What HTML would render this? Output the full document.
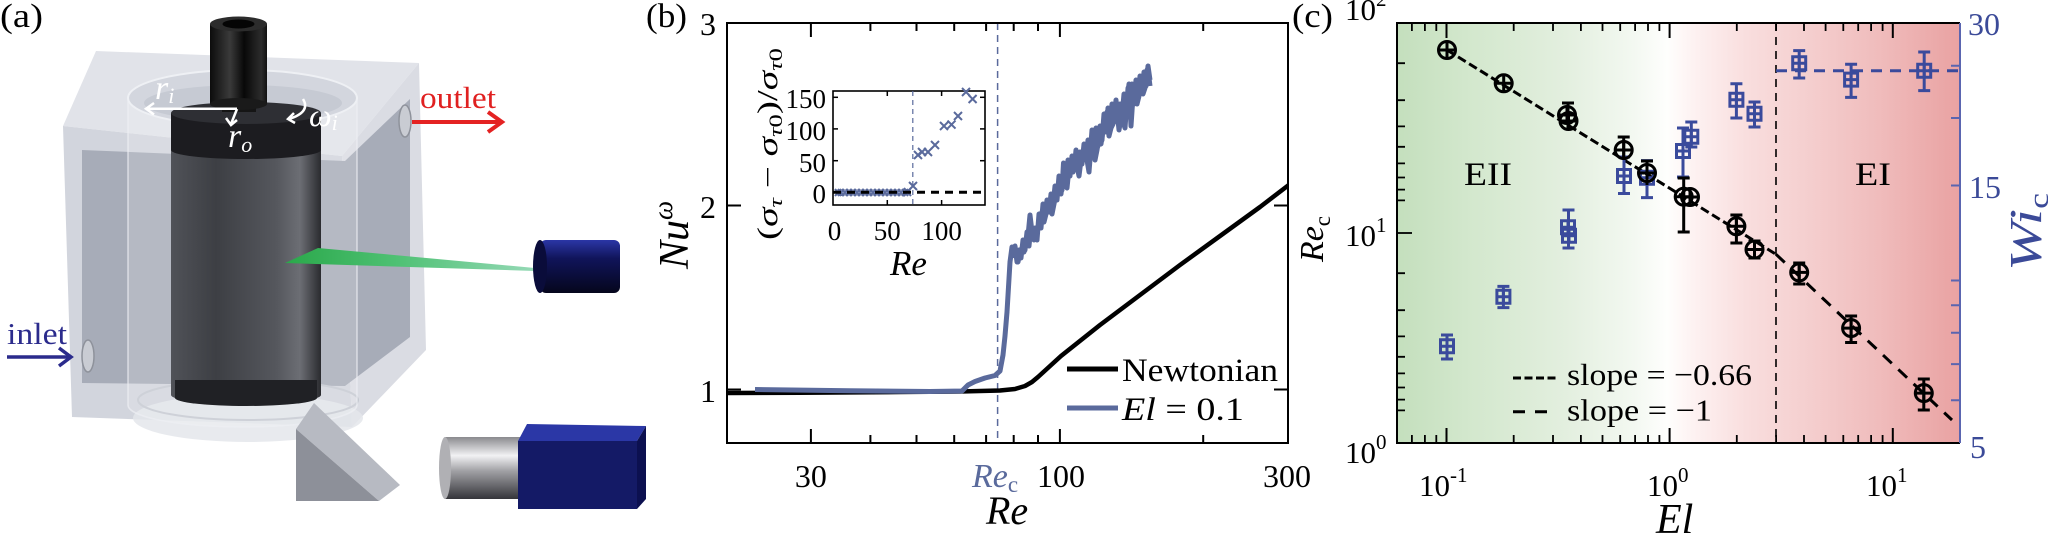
<!DOCTYPE html>
<html><head><meta charset="utf-8"><style>html,body{margin:0;padding:0;background:#fff}svg{display:block}svg text{font-family:"Liberation Serif","Times New Roman",serif}</style></head>
<body>
<svg width="2048" height="536" viewBox="0 0 2048 536" xmlns="http://www.w3.org/2000/svg" font-family="'Liberation Serif', serif">
<defs>
<linearGradient id="gInner" x1="171" y1="0" x2="321" y2="0" gradientUnits="userSpaceOnUse">
<stop offset="0" stop-color="#505258"/><stop offset="0.3" stop-color="#3d3f44"/><stop offset="0.7" stop-color="#55575d"/><stop offset="0.86" stop-color="#6c6e74"/><stop offset="1" stop-color="#2a2b2f"/></linearGradient>
<linearGradient id="gShaft" x1="210" y1="0" x2="267" y2="0" gradientUnits="userSpaceOnUse">
<stop offset="0" stop-color="#0c0c0c"/><stop offset="0.35" stop-color="#3a3a3a"/><stop offset="0.6" stop-color="#080808"/><stop offset="0.9" stop-color="#2c2c2c"/><stop offset="1" stop-color="#111"/></linearGradient>
<linearGradient id="gGreen" x1="285" y1="0" x2="535" y2="0" gradientUnits="userSpaceOnUse">
<stop offset="0" stop-color="#2aa84a"/><stop offset="0.45" stop-color="#4fc174"/><stop offset="1" stop-color="#95d9b6"/></linearGradient>
<linearGradient id="gLaser" x1="0" y1="240" x2="0" y2="293" gradientUnits="userSpaceOnUse">
<stop offset="0" stop-color="#2b36a6"/><stop offset="0.35" stop-color="#10145a"/><stop offset="1" stop-color="#05061c"/></linearGradient>
<linearGradient id="gLens" x1="0" y1="437" x2="0" y2="499" gradientUnits="userSpaceOnUse">
<stop offset="0" stop-color="#8a8a8e"/><stop offset="0.3" stop-color="#f2f2f4"/><stop offset="0.55" stop-color="#a0a0a4"/><stop offset="1" stop-color="#35353a"/></linearGradient>
<linearGradient id="gBg" x1="1397" y1="0" x2="1960" y2="0" gradientUnits="userSpaceOnUse">
<stop offset="0" stop-color="#c4dfbd"/><stop offset="0.12" stop-color="#d2e7cc"/><stop offset="0.3" stop-color="#e3efdf"/><stop offset="0.42" stop-color="#f3f8f1"/><stop offset="0.48" stop-color="#fefefd"/><stop offset="0.53" stop-color="#fdf1f1"/><stop offset="0.62" stop-color="#f9dede"/><stop offset="0.72" stop-color="#f5d0d0"/><stop offset="0.85" stop-color="#f0bdbd"/><stop offset="1" stop-color="#e9a2a2"/></linearGradient>
<clipPath id="cb"><rect x="727" y="23" width="561" height="420"/></clipPath>
<clipPath id="cc"><rect x="1397" y="23" width="563" height="420"/></clipPath>
</defs>

<!-- ================= PANEL A ================= -->
<text x="0" y="27" font-size="34" textLength="43" lengthAdjust="spacingAndGlyphs">(a)</text>
<polygon points="63,126 96,51 419,63 342,156" fill="#e1e3e9"/>
<polygon points="63,126 342,156 352,427 72,417" fill="#d2d5dd"/>
<polygon points="342,156 419,63 426,350 352,427" fill="#dadce3"/>
<polygon points="82,150 345,161 410,99 410,337 345,386 82,383" fill="#a7acb8"/>
<ellipse cx="248" cy="418" rx="115" ry="24" fill="#e4e6eb" fill-opacity="0.85"/>
<ellipse cx="248" cy="400" rx="110" ry="20" fill="none" stroke="#c5c9d1" stroke-width="2"/>
<path d="M128,98 L128,405 A114.5,22 0 0 0 357,405 L357,98 Z" fill="#ffffff" fill-opacity="0.16" stroke="#eef0f4" stroke-opacity="0.7" stroke-width="1.5"/>
<ellipse cx="242.5" cy="98" rx="114.5" ry="28" fill="#d3d6de" stroke="#eef0f4" stroke-width="2"/>
<ellipse cx="243" cy="103" rx="99" ry="18" fill="#c6cad3"/>
<path d="M171,118 L171,395 A75,9 0 0 0 321,395 L321,118 Z" fill="url(#gInner)"/>
<path d="M171,113 L171,150 A75,9 0 0 0 321,150 L321,113 Z" fill="#1c1c20"/>
<path d="M175,380 L175,398 A71,8 0 0 0 317,398 L317,380 Z" fill="#202125"/>
<ellipse cx="246" cy="113" rx="75" ry="11" fill="#2e2f34"/>
<rect x="222" y="98" width="34" height="14" fill="#151515"/>
<rect x="210" y="24" width="57" height="80" fill="url(#gShaft)"/>
<ellipse cx="238.5" cy="104" rx="28.5" ry="6" fill="#1a1a1a"/>
<ellipse cx="238.5" cy="24" rx="28.5" ry="7.5" fill="#2c2c2c"/>
<ellipse cx="238.5" cy="24" rx="16" ry="4.5" fill="#050505"/>
<ellipse cx="88" cy="356" rx="6" ry="16" fill="#c9ccd3" stroke="#8e929b" stroke-width="1.5"/>
<ellipse cx="405" cy="121" rx="6" ry="16" fill="#c9ccd3" stroke="#8e929b" stroke-width="1.5"/>
<polygon points="285,263 318,248 535,268 535,271" fill="url(#gGreen)"/>
<rect x="540" y="240" width="80" height="53" rx="6" fill="url(#gLaser)"/>
<ellipse cx="540" cy="266.5" rx="7" ry="26.5" fill="#0a0c3a"/>
<polygon points="296,429 314,403 400,485 379,501" fill="#b7bac2"/>
<polygon points="296,429 296,501 379,501" fill="#8d9099"/>
<rect x="445" y="437" width="76" height="62" fill="url(#gLens)"/>
<ellipse cx="445" cy="468" rx="6" ry="31" fill="#b0b0b4"/>
<polygon points="527,424 646,426 637,441 518,441" fill="#2b37a6"/>
<rect x="518" y="441" width="119" height="68" fill="#141a66"/>
<polygon points="637,441 646,426 646,499 637,509" fill="#0c1050"/>
<text x="7" y="344" font-size="31" fill="#2b2b8c" textLength="60" lengthAdjust="spacingAndGlyphs">inlet</text>
<line x1="7" y1="357" x2="70" y2="357" stroke="#2b2b8c" stroke-width="3.5"/>
<polyline points="59,348 71,357 59,366" fill="none" stroke="#2b2b8c" stroke-width="3.5"/>
<text x="420" y="108" font-size="31" fill="#e02020" textLength="76" lengthAdjust="spacingAndGlyphs">outlet</text>
<line x1="412" y1="122" x2="500" y2="122" stroke="#e42222" stroke-width="4"/>
<polyline points="488,112 502,122 488,132" fill="none" stroke="#e42222" stroke-width="4"/>
<g fill="#fff" stroke="none" font-style="italic">
<text x="155" y="99" font-size="34">r<tspan font-size="22" dy="4">i</tspan></text>
<text x="228" y="147" font-size="34">r<tspan font-size="22" dy="5">o</tspan></text>
<text x="309" y="126" font-size="32">ω<tspan font-size="22" dy="4">i</tspan></text>
</g>
<g stroke="#fff" stroke-width="2.5" fill="none">
<line x1="237" y1="108.7" x2="147" y2="108.7"/>
<polyline points="154,103 146,108.7 154,114.5"/>
<line x1="237" y1="109" x2="231" y2="124"/>
<polyline points="226,118 231,125 237,120"/>
<path d="M303,99 Q311,112 289,119"/>
<polyline points="294,113 288,119 295,123"/>
</g>

<!-- ================= PANEL B ================= -->
<text x="646" y="27" font-size="34" textLength="41" lengthAdjust="spacingAndGlyphs">(b)</text>
<g clip-path="url(#cb)">
<line x1="997.6" y1="23" x2="997.6" y2="443" stroke="#5a6a9c" stroke-width="1.5" stroke-dasharray="7 5"/>
<path d="M727,393 L800,392.7 L900,392 L960,391.5 L1000,390.5 L1015,389 L1025,386 L1032,382 L1038,377 L1061,356 L1100,325 L1140,295 L1180,265 L1220,236 L1260,207 L1290,184" fill="none" stroke="#000" stroke-width="4.5" stroke-linejoin="round"/>
<g fill="none" stroke="#5a6a9c" stroke-width="5" stroke-linejoin="round">
<polyline points="755,389.5 850,390.8 930,391.5 962,391 968,385 975,381.5 985,378 995,375.5 1000,371 1003,355 1005,336 1007,312 1008.5,287 1010,262 1012,247 1014,252 1016,256 1018,262 1020,252 1022,248 1024,252 1026,244 1028,236 1030,215 1032,232 1034,240 1036,236 1038,228 1040,222 1042,212 1044,222 1046,214 1048,206 1050,200 1052,214 1054,204 1056,194 1058,186 1060,182 1062,190 1063.5,163 1065,184 1067,188 1069,168 1071,162 1073,172 1075,158 1077,166 1079,176 1081,160 1083,152 1085,150 1087,160 1089,172 1091,146 1093,134 1095,160 1097,150 1099,138 1101,144 1103,130 1105,118 1107,112 1109,136 1111,128 1113,124 1115,108 1117,110 1119,130 1121,118 1123,122 1125,128 1127,100 1129,84 1131,126 1133,96 1135,92 1137,104 1139,96 1141,82 1143,94 1145,88 1147,70 1149,78 1150,86"/>
<polyline points="1013,258 1015,246 1017,262 1019,250 1021,258 1023,240 1025,250 1027,232 1029,246 1031,226 1033,238 1035,228 1037,240 1039,214 1041,228 1043,204 1045,216 1047,200 1049,212 1051,194 1053,206 1055,186 1057,200 1059,176 1061,194 1064,170 1066,180 1068,160 1070,176 1072,156 1074,170 1076,150 1078,170 1080,152 1082,164 1084,144 1086,160 1088,140 1090,156 1092,130 1094,150 1096,128 1098,146 1100,126 1102,140 1104,114 1106,132 1108,108 1110,126 1112,104 1114,122 1116,100 1118,120 1120,104 1122,116 1124,94 1126,118 1128,88 1130,112 1132,84 1134,104 1136,80 1138,98 1140,76 1142,92 1144,72 1146,86 1148,66 1150,80"/>
</g>
</g>
<rect x="727" y="23" width="561" height="420" fill="none" stroke="#000" stroke-width="2"/>
<g stroke="#000" stroke-width="2">
<line x1="810.9" y1="443" x2="810.9" y2="429"/><line x1="810.9" y1="23" x2="810.9" y2="37"/>
<line x1="1059.9" y1="443" x2="1059.9" y2="429"/><line x1="1059.9" y1="23" x2="1059.9" y2="37"/>
<line x1="870.4" y1="443" x2="870.4" y2="435"/><line x1="870.4" y1="23" x2="870.4" y2="31"/>
<line x1="916.5" y1="443" x2="916.5" y2="435"/><line x1="916.5" y1="23" x2="916.5" y2="31"/>
<line x1="954.2" y1="443" x2="954.2" y2="435"/><line x1="954.2" y1="23" x2="954.2" y2="31"/>
<line x1="986.1" y1="443" x2="986.1" y2="435"/><line x1="986.1" y1="23" x2="986.1" y2="31"/>
<line x1="1013.7" y1="443" x2="1013.7" y2="435"/><line x1="1013.7" y1="23" x2="1013.7" y2="31"/>
<line x1="1038" y1="443" x2="1038" y2="435"/><line x1="1038" y1="23" x2="1038" y2="31"/>
<line x1="1203.2" y1="443" x2="1203.2" y2="435"/><line x1="1203.2" y1="23" x2="1203.2" y2="31"/>
<line x1="727" y1="205.5" x2="741" y2="205.5"/><line x1="1288" y1="205.5" x2="1274" y2="205.5"/>
<line x1="727" y1="389.5" x2="741" y2="389.5"/><line x1="1288" y1="389.5" x2="1274" y2="389.5"/>
</g>
<g font-size="32" text-anchor="end">
<text x="716" y="35">3</text><text x="716" y="218">2</text><text x="716" y="402">1</text>
</g>
<g font-size="32" text-anchor="middle">
<text x="810.9" y="487">30</text><text x="1061" y="487">100</text><text x="1287" y="487">300</text>
</g>
<text x="972" y="487" font-size="34" fill="#5a6a9c"><tspan font-style="italic">Re</tspan><tspan font-size="23" dy="5">c</tspan></text>
<text x="986" y="524" font-size="40" font-style="italic">Re</text>
<text transform="translate(688,235) rotate(-90)" text-anchor="middle" font-size="42" font-style="italic">Nu<tspan font-size="27" dy="-16">ω</tspan></text>
<line x1="1067" y1="369" x2="1118" y2="369" stroke="#000" stroke-width="5"/>
<text x="1122" y="381" font-size="33" textLength="156" lengthAdjust="spacingAndGlyphs">Newtonian</text>
<line x1="1067" y1="408" x2="1118" y2="408" stroke="#5a6a9c" stroke-width="5"/>
<text x="1122" y="420" font-size="33" textLength="122" lengthAdjust="spacingAndGlyphs"><tspan font-style="italic">El</tspan> = 0.1</text>
<!-- inset -->
<rect x="833" y="91" width="152" height="114" fill="#fff" stroke="#000" stroke-width="1.6"/>
<g stroke="#000" stroke-width="1.5">
<line x1="833" y1="160.7" x2="838" y2="160.7"/><line x1="985" y1="160.7" x2="980" y2="160.7"/>
<line x1="833" y1="128.9" x2="838" y2="128.9"/><line x1="985" y1="128.9" x2="980" y2="128.9"/>
<line x1="833" y1="97.3" x2="838" y2="97.3"/><line x1="985" y1="97.3" x2="980" y2="97.3"/>
<line x1="887.3" y1="205" x2="887.3" y2="200"/><line x1="887.3" y1="91" x2="887.3" y2="96"/>
<line x1="941.6" y1="205" x2="941.6" y2="200"/><line x1="941.6" y1="91" x2="941.6" y2="96"/>
</g>
<line x1="912.8" y1="91" x2="912.8" y2="205" stroke="#5a6a9c" stroke-width="1.2" stroke-dasharray="5 4"/>
<rect x="836" y="189.5" width="74" height="6" fill="#5a6a9c" fill-opacity="0.55"/>
<g stroke="#5a6a9c" stroke-width="2">
<path d="M835,189 l6,7 M841,189 l-6,7 M838,189 l6,7 M844,189 l-6,7 M842,189 l6,7 M848,189 l-6,7 M846,189 l6,7 M852,189 l-6,7 M850,189 l6,7 M856,189 l-6,7 M854,189 l6,7 M860,189 l-6,7 M858,189 l6,7 M864,189 l-6,7 M862,189 l6,7 M868,189 l-6,7 M866,189 l6,7 M872,189 l-6,7 M870,189 l6,7 M876,189 l-6,7 M874,189 l6,7 M880,189 l-6,7 M878,189 l6,7 M884,189 l-6,7 M882,189 l6,7 M888,189 l-6,7 M886,189 l6,7 M892,189 l-6,7 M890,189 l6,7 M896,189 l-6,7 M894,189 l6,7 M900,189 l-6,7 M898,189 l6,7 M904,189 l-6,7 M902,189 l6,7 M908,189 l-6,7 M904,188 l7,8 M911,188 l-7,8"/>
<path d="M909,182 l8,8 M917,182 l-8,8"/>
<path d="M914,151 l8,8 M922,151 l-8,8"/>
<path d="M918,148 l8,8 M926,148 l-8,8"/>
<path d="M924,148 l8,8 M932,148 l-8,8"/>
<path d="M931,141 l8,8 M939,141 l-8,8"/>
<path d="M940,122 l8,8 M948,122 l-8,8"/>
<path d="M947.5,120.6 l8,8 M955.5,120.6 l-8,8"/>
<path d="M954,112 l8,8 M962,112 l-8,8"/>
<path d="M962,88 l8,8 M970,88 l-8,8"/>
<path d="M968.6,95 l8,8 M976.6,95 l-8,8"/>
</g>
<line x1="833" y1="192.3" x2="985" y2="192.3" stroke="#000" stroke-width="3" stroke-dasharray="8 6"/>
<g font-size="27" text-anchor="end">
<text x="826" y="108">150</text><text x="826" y="140">100</text><text x="826" y="172">50</text><text x="826" y="203">0</text>
</g>
<g font-size="27" text-anchor="middle">
<text x="834.5" y="240">0</text><text x="887.3" y="240">50</text><text x="941.6" y="240">100</text>
</g>
<text x="890" y="275" font-size="35" font-style="italic">Re</text>
<text transform="translate(777,144) rotate(-90)" text-anchor="middle" font-size="28" textLength="192" lengthAdjust="spacingAndGlyphs">(<tspan font-style="italic">σ</tspan><tspan font-size="19" font-style="italic" dy="5">τ</tspan><tspan dy="-5"> − </tspan><tspan font-style="italic">σ</tspan><tspan font-size="19" font-style="italic" dy="5">τ</tspan><tspan font-size="19">0</tspan><tspan dy="-5">)/</tspan><tspan font-style="italic">σ</tspan><tspan font-size="19" font-style="italic" dy="5">τ</tspan><tspan font-size="19">0</tspan></text>

<!-- ================= PANEL C ================= -->
<text x="1292" y="27" font-size="34" textLength="41" lengthAdjust="spacingAndGlyphs">(c)</text>
<rect x="1397" y="23" width="563" height="420" fill="url(#gBg)"/>
<g clip-path="url(#cc)">
<line x1="1776" y1="23" x2="1776" y2="443" stroke="#000" stroke-width="1.6" stroke-dasharray="8 6"/>
<line x1="1776" y1="70.8" x2="1960" y2="70.8" stroke="#3a4a9c" stroke-width="3" stroke-dasharray="11 8"/>
<line x1="1447" y1="50" x2="1776" y2="254.3" stroke="#000" stroke-width="3" stroke-dasharray="9 4"/>
<line x1="1776" y1="254.3" x2="1952" y2="420" stroke="#000" stroke-width="3" stroke-dasharray="12 9"/>
<g stroke="#3a4a9c" stroke-width="3" fill="none">
<path d="M1447,335 V359 M1441,335 H1453 M1441,359 H1453"/>
<path d="M1503.4,286.4 V307.6 M1497.4,286.4 H1509.4 M1497.4,307.6 H1509.4"/>
<path d="M1568.5,210 V248 M1562.5,210 H1574.5 M1562.5,248 H1574.5"/>
<path d="M1624,157 V193.5 M1618,157 H1630 M1618,193.5 H1630"/>
<path d="M1647,160.6 V197.6 M1641,160.6 H1653 M1641,197.6 H1653"/>
<path d="M1683,128 V177 M1677,128 H1689 M1677,177 H1689"/>
<path d="M1691.3,122 V147 M1685.3,122 H1697.3 M1685.3,147 H1697.3"/>
<path d="M1736.4,83.7 V118 M1730.4,83.7 H1742.4 M1730.4,118 H1742.4"/>
<path d="M1754.5,102 V127 M1748.5,102 H1760.5 M1748.5,127 H1760.5"/>
<path d="M1799.2,50.6 V78 M1793.2,50.6 H1805.2 M1793.2,78 H1805.2"/>
<path d="M1851.1,64.3 V97.4 M1845.1,64.3 H1857.1 M1845.1,97.4 H1857.1"/>
<path d="M1924.2,52 V90.6 M1918.2,52 H1930.2 M1918.2,90.6 H1930.2"/>
</g>
<g stroke="#3a4a9c" stroke-width="3" fill="none">
<path d="M1440.5,339.8 h13 v13 h-13 z M1440.5,346.3 h13 M1447,339.8 v13"/>
<path d="M1496.9,290.2 h13 v13 h-13 z M1496.9,296.7 h13 M1503.4,290.2 v13"/>
<path d="M1561.5,220.8 h13 v13 h-13 z M1561.5,227.3 h13 M1568,220.8 v13"/>
<path d="M1562.5,229.3 h13 v13 h-13 z M1562.5,235.8 h13 M1569,229.3 v13"/>
<path d="M1617.5,169.5 h13 v13 h-13 z M1617.5,176 h13 M1624,169.5 v13"/>
<path d="M1640.5,171.2 h13 v13 h-13 z M1640.5,177.7 h13 M1647,171.2 v13"/>
<path d="M1676.5,144.5 h13 v13 h-13 z M1676.5,151 h13 M1683,144.5 v13"/>
<path d="M1684.8,130.2 h13 v13 h-13 z M1684.8,136.7 h13 M1691.3,130.2 v13"/>
<path d="M1729.9,93.3 h13 v13 h-13 z M1729.9,99.8 h13 M1736.4,93.3 v13"/>
<path d="M1748,107.3 h13 v13 h-13 z M1748,113.8 h13 M1754.5,107.3 v13"/>
<path d="M1792.7,56.7 h13 v13 h-13 z M1792.7,63.2 h13 M1799.2,56.7 v13"/>
<path d="M1844.6,73.1 h13 v13 h-13 z M1844.6,79.6 h13 M1851.1,73.1 v13"/>
<path d="M1917.7,64.3 h13 v13 h-13 z M1917.7,70.8 h13 M1924.2,64.3 v13"/>
</g>
<g stroke="#000" stroke-width="3" fill="none">
<path d="M1568,103 V128 M1562,103 H1574"/>
<path d="M1623.7,137 V160 M1617.7,137 H1629.7"/>
<path d="M1647,161 V185 M1641,161 H1653"/>
<path d="M1683.7,178 V232 M1677.7,178 H1689.7 M1677.7,232 H1689.7"/>
<path d="M1736.4,215 V243 M1730.4,215 H1742.4 M1730.4,243 H1742.4"/>
<path d="M1754.5,241 V258 M1748.5,241 H1760.5 M1748.5,258 H1760.5"/>
<path d="M1799.2,263 V284 M1793.2,263 H1805.2 M1793.2,284 H1805.2"/>
<path d="M1851.1,316 V342.5 M1845.1,316 H1857.1 M1845.1,342.5 H1857.1"/>
<path d="M1923.8,379 V410 M1917.8,379 H1929.8 M1917.8,410 H1929.8"/>
</g>
<g stroke="#000" stroke-width="3" fill="none">
<circle cx="1447" cy="50" r="8.5"/><path d="M1438.5,50 h17 M1447,41.5 v17"/>
<circle cx="1503.7" cy="83.3" r="8.5"/><path d="M1495.2,83.3 h17 M1503.7,74.8 v17"/>
<circle cx="1567" cy="115" r="8.5"/><path d="M1558.5,115 h17 M1567,106.5 v17"/>
<circle cx="1568.5" cy="121" r="8.5"/><path d="M1560,121 h17 M1568.5,112.5 v17"/>
<circle cx="1623.7" cy="150" r="8.5"/><path d="M1615.2,150 h17 M1623.7,141.5 v17"/>
<circle cx="1647" cy="173" r="8.5"/><path d="M1638.5,173 h17 M1647,164.5 v17"/>
<circle cx="1683.7" cy="196.7" r="8.5"/><path d="M1675.2,196.7 h17 M1683.7,188.2 v17"/>
<circle cx="1690" cy="197" r="8.5"/><path d="M1681.5,197 h17 M1690,188.5 v17"/>
<circle cx="1736.4" cy="226.3" r="8.5"/><path d="M1727.9,226.3 h17 M1736.4,217.8 v17"/>
<circle cx="1754.5" cy="249.5" r="8.5"/><path d="M1746,249.5 h17 M1754.5,241 v17"/>
<circle cx="1799.2" cy="272.4" r="8.5"/><path d="M1790.7,272.4 h17 M1799.2,263.9 v17"/>
<circle cx="1851.1" cy="328.1" r="8.5"/><path d="M1842.6,328.1 h17 M1851.1,319.6 v17"/>
<circle cx="1923.8" cy="393.1" r="8.5"/><path d="M1915.3,393.1 h17 M1923.8,384.6 v17"/>
</g>
</g>
<path d="M1960,23 H1397 V443 H1960" fill="none" stroke="#000" stroke-width="2"/>
<line x1="1960" y1="23" x2="1960" y2="443" stroke="#5a65b0" stroke-width="2"/>
<g stroke="#000" stroke-width="2">
<line x1="1446.5" y1="443" x2="1446.5" y2="428"/><line x1="1446.5" y1="23" x2="1446.5" y2="38"/>
<line x1="1669.6" y1="443" x2="1669.6" y2="428"/><line x1="1669.6" y1="23" x2="1669.6" y2="38"/>
<line x1="1892.8" y1="443" x2="1892.8" y2="428"/><line x1="1892.8" y1="23" x2="1892.8" y2="38"/>
</g>
<g stroke="#000" stroke-width="1.8">
<path d="M1411.9,443 v-8 M1424.9,443 v-8 M1436.3,443 v-8 M1513.7,443 v-8 M1553,443 v-8 M1580.9,443 v-8 M1602.5,443 v-8 M1620.2,443 v-8 M1635.1,443 v-8 M1648,443 v-8 M1659.4,443 v-8 M1736.8,443 v-8 M1776.1,443 v-8 M1804,443 v-8 M1825.6,443 v-8 M1843.3,443 v-8 M1858.2,443 v-8 M1871.1,443 v-8 M1882.6,443 v-8"/>
<path d="M1411.9,23 v8 M1424.9,23 v8 M1436.3,23 v8 M1513.7,23 v8 M1553,23 v8 M1580.9,23 v8 M1602.5,23 v8 M1620.2,23 v8 M1635.1,23 v8 M1648,23 v8 M1659.4,23 v8 M1736.8,23 v8 M1776.1,23 v8 M1804,23 v8 M1825.6,23 v8 M1843.3,23 v8 M1858.2,23 v8 M1871.1,23 v8 M1882.6,23 v8"/>
<path d="M1397,233 h15"/>
<path d="M1397,63.2 h8 M1397,100.2 h8 M1397,126.4 h8 M1397,146.8 h8 M1397,163.4 h8 M1397,177.5 h8 M1397,189.6 h8 M1397,200.4 h8"/>
<path d="M1397,273.2 h8 M1397,310.2 h8 M1397,336.4 h8 M1397,356.8 h8 M1397,373.4 h8 M1397,387.5 h8 M1397,399.6 h8 M1397,410.4 h8"/>
</g>
<g stroke="#5a65b0" stroke-width="2">
<path d="M1960,400.2 h-9 M1960,364.1 h-9 M1960,332.8 h-9 M1960,305.2 h-9 M1960,280.5 h-9 M1960,185.5 h-9 M1960,118 h-9 M1960,65.7 h-9"/>
</g>
<text x="1464" y="185" font-size="33" textLength="48" lengthAdjust="spacingAndGlyphs">EII</text>
<text x="1855" y="185" font-size="33" textLength="36" lengthAdjust="spacingAndGlyphs">EI</text>
<line x1="1513" y1="378" x2="1558" y2="378" stroke="#000" stroke-width="3" stroke-dasharray="8 3.5"/>
<text x="1567" y="385" font-size="31" textLength="185" lengthAdjust="spacingAndGlyphs">slope = −0.66</text>
<line x1="1513" y1="411.7" x2="1547" y2="411.7" stroke="#000" stroke-width="3" stroke-dasharray="12 10"/>
<text x="1567" y="420.7" font-size="31" textLength="145" lengthAdjust="spacingAndGlyphs">slope = −1</text>
<g font-size="31">
<text x="1345" y="20">10<tspan font-size="21" dy="-14">2</tspan></text>
<text x="1345" y="246">10<tspan font-size="21" dy="-14">1</tspan></text>
<text x="1345" y="463">10<tspan font-size="21" dy="-14">0</tspan></text>
<text x="1419" y="496">10<tspan font-size="21" dy="-14">-1</tspan></text>
<text x="1647" y="496">10<tspan font-size="21" dy="-14">0</tspan></text>
<text x="1866" y="496">10<tspan font-size="21" dy="-14">1</tspan></text>
</g>
<g font-size="32" fill="#3b4a98">
<text x="1968" y="35">30</text>
<text x="1969" y="198">15</text>
<text x="1970" y="458">5</text>
</g>
<text transform="translate(1323,239) rotate(-90)" text-anchor="middle" font-size="34"><tspan font-style="italic">Re</tspan><tspan font-size="23" dy="7">c</tspan></text>
<text transform="translate(2041,232) rotate(-90)" text-anchor="middle" font-size="46" fill="#3b4a98" textLength="78" lengthAdjust="spacingAndGlyphs"><tspan font-style="italic">Wi</tspan><tspan font-size="28" dy="7">c</tspan></text>
<text x="1656" y="533" font-size="42" font-style="italic">El</text>
</svg>
</body></html>
